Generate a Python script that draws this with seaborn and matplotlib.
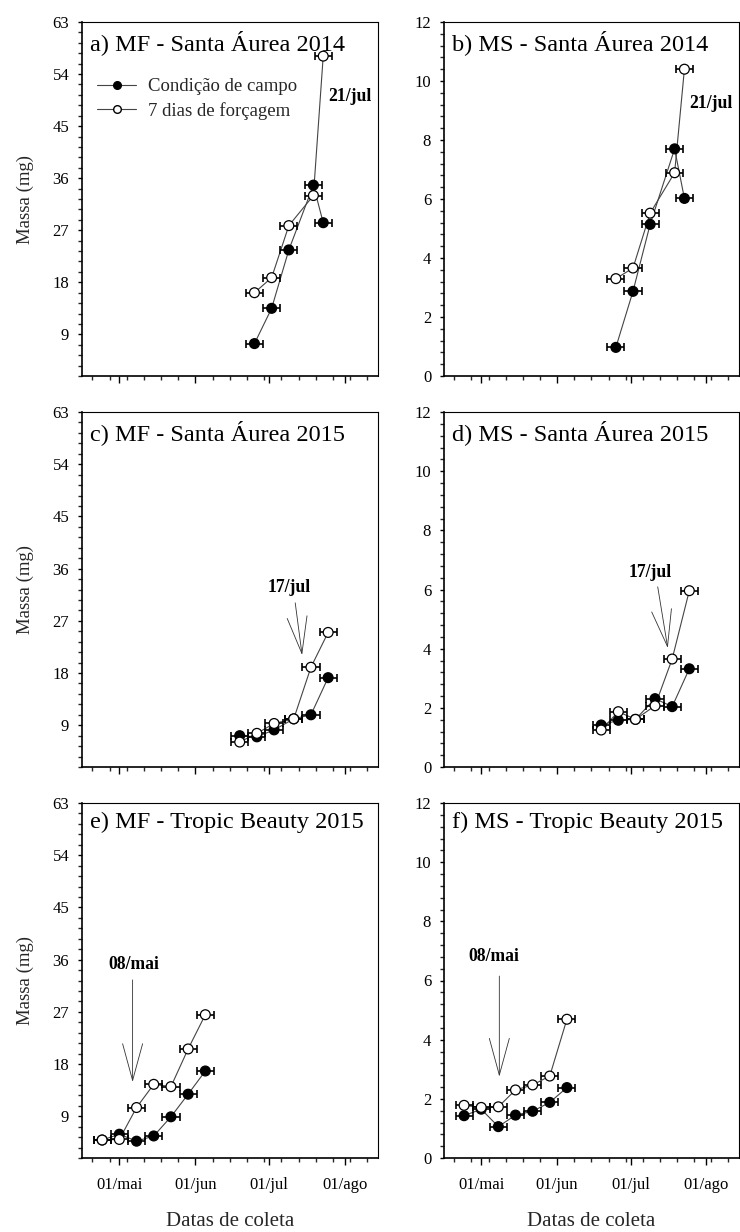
import matplotlib
matplotlib.use("Agg")
import matplotlib.pyplot as plt
from matplotlib.ticker import MultipleLocator, FixedLocator, NullFormatter
from matplotlib.lines import Line2D
import pandas as pd
import seaborn as sns

# Collection dates (day of year)
dias_sa2014 = [176, 183, 190, 200, 204]
dias_sa2015 = [170, 177, 184, 192, 199, 206]
dias_tb2015 = [114, 121, 128, 135, 142, 149, 156]

# Fresh mass (MF, mg): field condition vs. 7 days of forcing
mf_sa2014_campo = [7.4, 13.5, 23.6, 34.8, 28.3]
mf_sa2014_forc = [16.2, 18.8, 27.8, 33.0, 57.1]
mf_sa2015_campo = [7.2, 7.0, 8.2, 10.1, 10.8, 17.2]
mf_sa2015_forc = [6.1, 7.6, 9.3, 10.1, 19.0, 25.0]
mf_tb2015_campo = [4.9, 5.9, 4.7, 5.6, 8.9, 12.8, 16.8]
mf_tb2015_forc = [4.9, 5.0, 10.5, 14.5, 14.1, 20.6, 26.5]

# Dry mass (MS, mg)
ms_sa2014_campo = [0.97, 2.87, 5.14, 7.70, 6.02]
ms_sa2014_forc = [3.30, 3.66, 5.52, 6.89, 10.40]
ms_sa2015_campo = [1.42, 1.58, 1.61, 2.31, 2.04, 3.32]
ms_sa2015_forc = [1.25, 1.87, 1.61, 2.07, 3.65, 5.96]
ms_tb2015_campo = [1.43, 1.65, 1.06, 1.45, 1.58, 1.88, 2.38]
ms_tb2015_forc = [1.78, 1.71, 1.73, 2.30, 2.47, 2.77, 4.69]

# Half-width of the collection interval (days)
erro_dias = 3.5

rotulos_serie = ["Condição de campo", "7 dias de forçagem"]
titulos = ["a) MF - Santa Áurea 2014", "b) MS - Santa Áurea 2014",
           "c) MF - Santa Áurea 2015", "d) MS - Santa Áurea 2015",
           "e) MF - Tropic Beauty 2015", "f) MS - Tropic Beauty 2015"]
meses_pos = [121, 152, 182, 213]
meses_rot = ["01/mai", "01/jun", "01/jul", "01/ago"]

sns.set_theme(style="ticks")
plt.rcParams["font.family"] = ["Liberation Serif", "DejaVu Serif"]
plt.rcParams["mathtext.fontset"] = "stix"

fig = plt.figure(figsize=(7.40, 12.32), dpi=100)
W, H = 740.0, 1232.0


def add_axes(x0, x1, y0, y1):
    return fig.add_axes([x0 / W, 1 - y1 / H, (x1 - x0) / W, (y1 - y0) / H])


rows = [(22, 376), (412, 767), (803, 1158)]
cols = [(82, 378), (444, 739)]

paineis = [
    (dias_sa2014, mf_sa2014_campo, mf_sa2014_forc),
    (dias_sa2014, ms_sa2014_campo, ms_sa2014_forc),
    (dias_sa2015, mf_sa2015_campo, mf_sa2015_forc),
    (dias_sa2015, ms_sa2015_campo, ms_sa2015_forc),
    (dias_tb2015, mf_tb2015_campo, mf_tb2015_forc),
    (dias_tb2015, ms_tb2015_campo, ms_tb2015_forc),
]

# annotation: (text, text_xy, arrow_tail, arrow_tip) in data coords
anotacoes = [
    ("21/jul", (215, 50.1), None, None),
    ("21/jul", (215, 9.25), None, None),
    ("17/jul", (190.2, 32.8), (192.6, 30.1), (195.4, 21.1)),
    ("17/jul", (190.2, 6.59), (193.1, 6.09), (197.2, 4.02)),
    ("08/mai", (126.7, 35.1), (126.4, 32.5), (126.4, 14.9)),
    ("08/mai", (126.0, 6.8), (128.4, 6.15), (128.4, 2.75)),
]

for i, (dias, campo, forc) in enumerate(paineis):
    r, c = divmod(i, 2)
    ax = add_axes(cols[c][0], cols[c][1], rows[r][0], rows[r][1])

    df = pd.concat([
        pd.DataFrame({"dia": dias, "massa": campo, "trat": "campo"}),
        pd.DataFrame({"dia": dias, "massa": forc, "trat": "forc"}),
    ], ignore_index=True)

    sns.lineplot(data=df, x="dia", y="massa", hue="trat", sort=False,
                 palette={"campo": "#444444", "forc": "#444444"},
                 linewidth=0.8, legend=False, ax=ax, zorder=1)
    for trat in ["campo", "forc"]:
        sub = df[df.trat == trat]
        ax.errorbar(sub["dia"], sub["massa"], xerr=erro_dias, fmt="none",
                    ecolor="black", elinewidth=1.2, capsize=2.8,
                    capthick=1.2, zorder=2)
    sns.scatterplot(data=df, x="dia", y="massa", hue="trat",
                    palette={"campo": "black", "forc": "white"},
                    edgecolor="black", linewidth=0.9, s=50,
                    legend=False, ax=ax, zorder=3)

    ax.set_xlim(105.8, 226.3)
    ax.xaxis.set_major_locator(FixedLocator(meses_pos))
    ax.xaxis.set_minor_locator(FixedLocator(list(range(110, 226, 7))))
    if r == 2:
        ax.set_xticklabels(meses_rot)
        ax.set_xlabel("Datas de coleta", fontsize=15, labelpad=13)
    else:
        ax.xaxis.set_major_formatter(NullFormatter())
        ax.set_xlabel("")

    if c == 0:
        ax.set_ylim(1.8, 63)
        ax.yaxis.set_major_locator(FixedLocator([9, 18, 27, 36, 45, 54, 63]))
        ax.yaxis.set_minor_locator(MultipleLocator(1.8))
        ax.set_ylabel("Massa (mg)", fontsize=13.5, labelpad=13)
    else:
        ax.set_ylim(0, 12)
        ax.yaxis.set_major_locator(MultipleLocator(2))
        ax.yaxis.set_minor_locator(MultipleLocator(0.4))
        ax.set_ylabel("")

    ax.tick_params(axis="both", which="major", labelsize=12, colors="black",
                   direction="out", width=1.0)
    ax.tick_params(axis="y", which="both", length=3.2, width=1.0, pad=6)
    ax.tick_params(axis="x", which="major", length=5, pad=9)
    ax.tick_params(axis="x", which="minor", length=3, width=1.0)
    for lado in ["left", "bottom"]:
        ax.spines[lado].set_linewidth(1.2)
        ax.spines[lado].set_color("black")
    for lado in ["top", "right"]:
        ax.spines[lado].set_linewidth(0.8)
        ax.spines[lado].set_color("black")
        ax.spines[lado].set_visible(True)

    ax.annotate(titulos[i], xy=(0, 1), xycoords="axes fraction",
                xytext=(6, -6), textcoords="offset points",
                ha="left", va="top", fontsize=17.5, color="black")

    texto, pos_txt, cauda, ponta = anotacoes[i]
    ax.text(pos_txt[0], pos_txt[1], texto, ha="center", va="center",
            fontsize=12.7, fontweight="bold", color="black")
    if cauda is not None:
        ax.annotate("", xy=ponta, xytext=cauda,
                    arrowprops=dict(arrowstyle="->,head_length=2.2,head_width=0.6",
                                    color="#333333", lw=0.6,
                                    shrinkA=0, shrinkB=0))

    if i == 0:
        handles = [
            Line2D([], [], color="#444444", lw=0.8, marker="o", ms=5.5,
                   mfc="black", mec="black"),
            Line2D([], [], color="#444444", lw=0.8, marker="o", ms=5.5,
                   mfc="white", mec="black"),
        ]
        ax.legend(handles, rotulos_serie, loc="upper left",
                  bbox_to_anchor=(0.025, 0.862), frameon=False,
                  fontsize=13.5, handlelength=2.1, handletextpad=0.6,
                  labelspacing=0.33, borderaxespad=0)

fig.savefig("out.png", dpi=100)
